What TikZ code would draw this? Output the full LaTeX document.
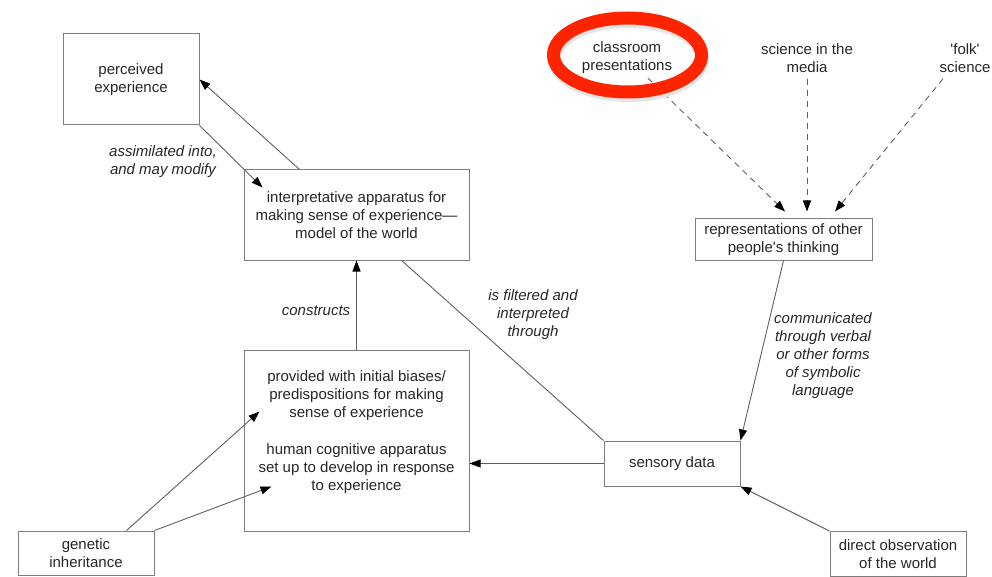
\documentclass[tikz,border=0pt]{standalone}
\usepackage{fontspec}
\setmainfont{Liberation Sans}
\usetikzlibrary{arrows.meta,calc}
\definecolor{boxgray}{RGB}{125,125,125}
\definecolor{linegray}{RGB}{95,95,95}
\definecolor{ringred}{RGB}{255,36,0}

\begin{document}
\begin{tikzpicture}[x=1pt, y=-1pt,
  every node/.style={font=\fontsize{15}{18}\selectfont, text=black!85},
  box/.style={draw=boxgray, line width=1pt, align=center, inner sep=0pt},
  lbl/.style={font=\fontsize{15}{18}\selectfont\itshape, align=center, inner sep=0pt},
  src/.style={align=center, inner sep=0pt},
  conn/.style={linegray, line width=0.9pt},
  arrow/.style={conn, -{Triangle[length=11pt, width=8pt, color=black]}},
  feed/.style={arrow, dash pattern=on 6pt off 5pt},
  ring/.style={ringred, line width=13pt},
]
\useasboundingbox (0,0) rectangle (992,577);

%% -- Boxes --------------------------------------------------------------
\node[box, minimum width=136pt, minimum height=91pt] (perc) at (131,79.5)
  {perceived\\experience};
\node[box, minimum width=225pt, minimum height=90pt] (interp) at (356.5,215)
  {interpretative apparatus for\\making sense of experience---\\model of the world};
\node[box, minimum width=225pt, minimum height=181pt] (human) at (356.5,440.5) {};
\node[src] (humantxt) at (356.5,432.5)
  {provided with initial biases/\\predispositions for making\\sense of experience\\[19pt]
   human cognitive apparatus\\set up to develop in response\\to experience};
\node[box, minimum width=136pt, minimum height=45pt] (sens) at (672,463.5)
  {sensory data};
\node[box, minimum width=177pt, minimum height=41pt] (repr) at (783.5,239.5)
  {representations of other\\people\textquotesingle s thinking};
\node[box, minimum width=136pt, minimum height=45pt] (direct) at (898,554)
  {direct observation\\of the world};
\node[box, minimum width=136pt, minimum height=44pt] (genetic) at (86,553)
  {genetic\\inheritance};

%% -- Sources of other people's thinking ---------------------------------
\node[src] (class) at (627,58) {classroom\\presentations};
\node[src] (media) at (807,58) {science in the\\media};
\node[src] (folk) at (965,58) {\textquotesingle folk\textquotesingle\\science};

%% -- Connectors ---------------------------------------------------------
\draw[arrow] ($(interp.north west)+(56,0)$) -- (perc.east);
\draw[arrow] (perc.south east) -- ($(interp.north west)+(19,18)$);
\node[lbl] (lassim) at (163,162) {assimilated into,\\and may modify};

\draw[arrow] (human.north) -- (interp.south);
\node[lbl] (lconstr) at (316,311) {constructs};

\draw[conn] (sens.north west) -- ($(interp.south west)+(158,0)$);
\node[lbl] (lfilter) at (533,315) {is filtered and\\interpreted\\through};

\draw[arrow] (sens.west) -- (sens.west -| human.east);

\draw[arrow] (repr.south) -- (sens.north east);
\node[lbl] (lcomm) at (823,356)
  {communicated\\through verbal\\or other forms\\of symbolic\\language};

\draw[arrow] (direct.north west) -- (sens.south east);

\draw[arrow] ($(genetic.north west)+(109,0)$) -- ($(human.north west)+(16,62)$);
\draw[arrow] (genetic.north east) -- ($(human.north west)+(28,137)$);

% dashed feeds into representations
\draw[feed] ($(class.south)+(21,4)$) -- ($(repr.north)+(1.5,-7)$);
\draw[feed] ($(media.south)+(0,6)$) -- ($(repr.north)+(23.5,-7)$);
\draw[feed] ($(folk.south)+(-22,6)$) -- ($(repr.north)+(51.5,-7)$);

% highlight round the classroom
\draw[ring, black!10] ($(class.center)+(1.5,0.5)$) ellipse [x radius=74pt, y radius=37pt];
\draw[ring] ($(class.center)+(0.5,-3)$) ellipse [x radius=74pt, y radius=37pt];

\end{tikzpicture}
\end{document}
